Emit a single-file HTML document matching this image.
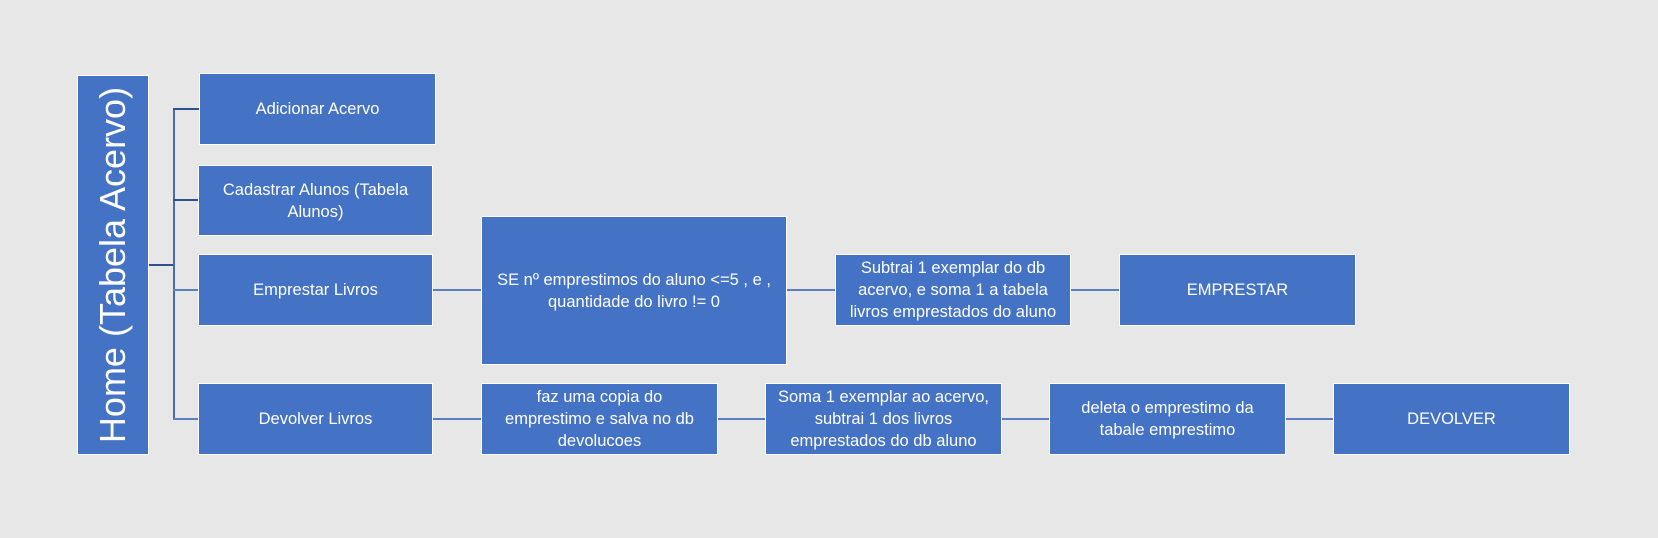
<!DOCTYPE html>
<html><head><meta charset="utf-8"><style>
body{margin:0;width:1658px;height:538px;background:#e7e7e7;position:relative;overflow:hidden;font-family:"Liberation Sans",sans-serif;}
.b{position:absolute;background:#4472c4;border:1.5px solid #fff;box-sizing:border-box;color:#fff;display:flex;align-items:center;justify-content:center;text-align:center;font-size:16.5px;line-height:22px;white-space:nowrap;}
.l{position:absolute;background:#5b7fc0;}
</style></head><body>
<div class="l" style="left:149px;top:264px;width:26px;height:2px;background:#2f528f"></div>
<div class="l" style="left:173px;top:108px;width:2px;height:312px;background:#4a6aa8"></div>
<div class="l" style="left:173px;top:108px;width:26px;height:1.5px;background:#2f528f"></div>
<div class="l" style="left:173px;top:199px;width:26px;height:1.5px;background:#2f528f"></div>
<div class="l" style="left:173px;top:289px;width:26px;height:1.5px"></div>
<div class="l" style="left:173px;top:418px;width:26px;height:1.5px"></div>
<div class="l" style="left:433px;top:289px;width:686px;height:1.5px"></div>
<div class="l" style="left:433px;top:418px;width:900px;height:1.5px"></div>

<div class="b" style="left:77px;top:75px;width:72px;height:380px;"><div style="transform:rotate(-90deg);font-size:36px;line-height:38px;">Home (Tabela Acervo)</div></div>
<div class="b" style="left:199px;top:73px;width:237px;height:72px;">Adicionar Acervo</div>
<div class="b" style="left:198px;top:165px;width:235px;height:71px;">Cadastrar Alunos (Tabela<br>Alunos)</div>
<div class="b" style="left:198px;top:254px;width:235px;height:72px;">Emprestar Livros</div>
<div class="b" style="left:198px;top:383px;width:235px;height:72px;">Devolver Livros</div>
<div class="b" style="left:481px;top:216px;width:306px;height:149px;">SE nº emprestimos do aluno &lt;=5 , e ,<br>quantidade do livro != 0</div>
<div class="b" style="left:835px;top:254px;width:236px;height:72px;">Subtrai 1 exemplar do db<br>acervo, e soma 1 a tabela<br>livros emprestados do aluno</div>
<div class="b" style="left:1119px;top:254px;width:237px;height:72px;">EMPRESTAR</div>
<div class="b" style="left:481px;top:383px;width:237px;height:72px;">faz uma copia do<br>emprestimo e salva no db<br>devolucoes</div>
<div class="b" style="left:765px;top:383px;width:237px;height:72px;">Soma 1 exemplar ao acervo,<br>subtrai 1 dos livros<br>emprestados do db aluno</div>
<div class="b" style="left:1049px;top:383px;width:237px;height:72px;">deleta o emprestimo da<br>tabale emprestimo</div>
<div class="b" style="left:1333px;top:383px;width:237px;height:72px;">DEVOLVER</div>
</body></html>
